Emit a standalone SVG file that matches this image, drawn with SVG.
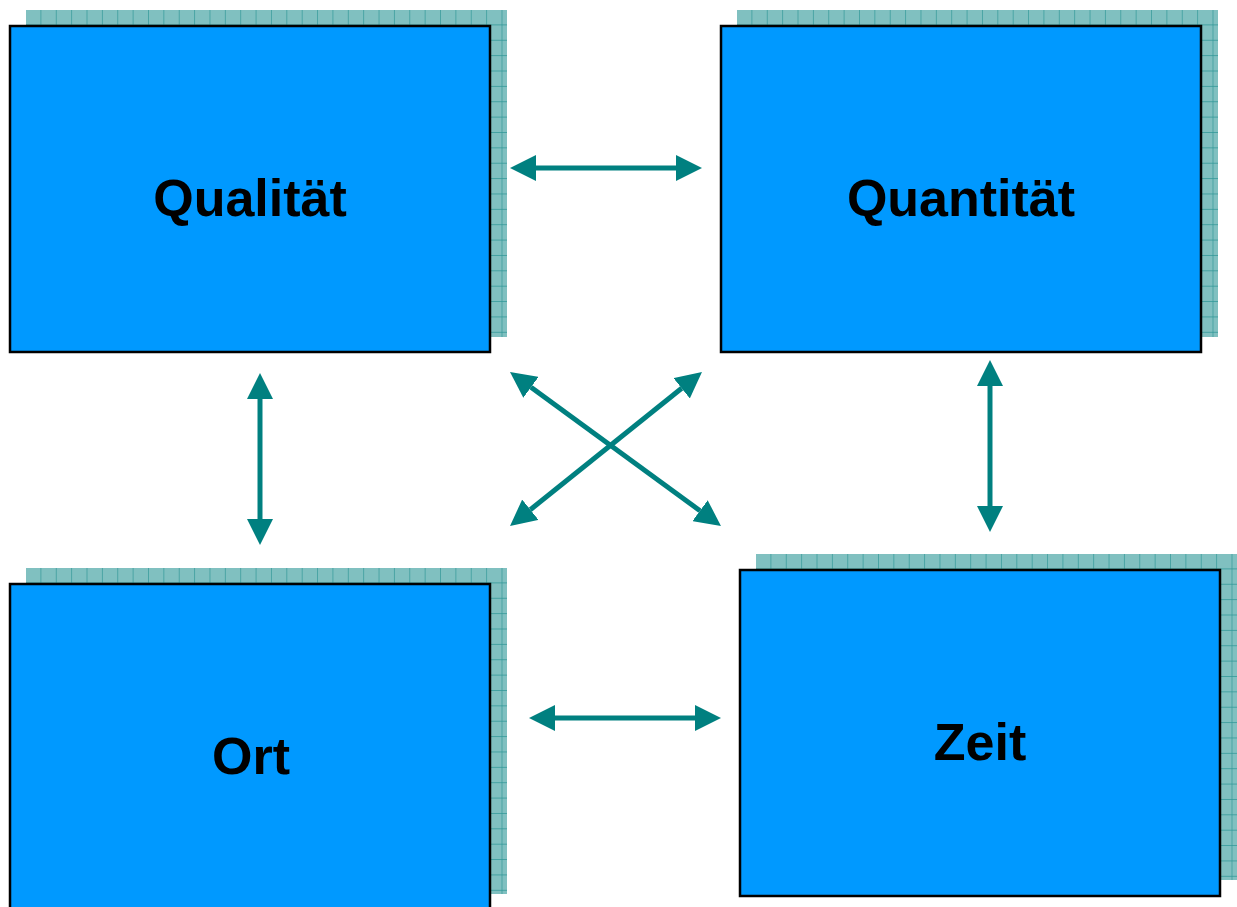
<svg xmlns="http://www.w3.org/2000/svg" width="1237" height="907" viewBox="0 0 1237 907">
  <style>
    .shadow { stroke: none; }
    .box { fill: #0099FF; stroke: #000000; stroke-width: 2.5; }
    .label { font-family: "Liberation Sans", Arial, sans-serif; font-weight: bold; font-size: 52px; fill: #000000; text-anchor: middle; }
    .link { fill: none; stroke: #008080; stroke-width: 5; marker-start: url(#head); marker-end: url(#head); }
  </style>
  <defs>
    <!-- tiled grid used for the offset backdrop of each box -->
    <pattern id="gridA" patternUnits="userSpaceOnUse" x="26" y="10" width="15.37" height="15.37">
      <rect width="15.37" height="15.37" fill="#80C0C0"/>
      <path d="M15.37 0 V15.37 M0 15.37 H15.37" stroke="#2E9696" stroke-width="1.3" fill="none"/>
    </pattern>
    <pattern id="gridB" patternUnits="userSpaceOnUse" x="737" y="10" width="15.37" height="15.37">
      <rect width="15.37" height="15.37" fill="#80C0C0"/>
      <path d="M15.37 0 V15.37 M0 15.37 H15.37" stroke="#2E9696" stroke-width="1.3" fill="none"/>
    </pattern>
    <pattern id="gridC" patternUnits="userSpaceOnUse" x="26" y="568" width="15.37" height="15.37">
      <rect width="15.37" height="15.37" fill="#80C0C0"/>
      <path d="M15.37 0 V15.37 M0 15.37 H15.37" stroke="#2E9696" stroke-width="1.3" fill="none"/>
    </pattern>
    <pattern id="gridD" patternUnits="userSpaceOnUse" x="756" y="554" width="15.37" height="15.37">
      <rect width="15.37" height="15.37" fill="#80C0C0"/>
      <path d="M15.37 0 V15.37 M0 15.37 H15.37" stroke="#2E9696" stroke-width="1.3" fill="none"/>
    </pattern>
    <marker id="head" markerUnits="userSpaceOnUse" viewBox="0 0 26 26" refX="0" refY="13" markerWidth="26" markerHeight="26" orient="auto-start-reverse">
      <path d="M0 0 L26 13 L0 26 Z" fill="#008080"/>
    </marker>
  </defs>

  <g id="node-qualitaet">
    <rect class="shadow" x="26" y="10" width="481" height="327" fill="url(#gridA)"/>
    <rect class="box" x="10" y="26" width="480" height="326"/>
    <text class="label" x="250" y="216">Qualität</text>
  </g>

  <g id="node-quantitaet">
    <rect class="shadow" x="737" y="10" width="481" height="327" fill="url(#gridB)"/>
    <rect class="box" x="721" y="26" width="480" height="326"/>
    <text class="label" x="961" y="216">Quantität</text>
  </g>

  <g id="node-ort">
    <rect class="shadow" x="26" y="568" width="481" height="326" fill="url(#gridC)"/>
    <rect class="box" x="10" y="584" width="480" height="326"/>
    <text class="label" x="251" y="774">Ort</text>
  </g>

  <g id="node-zeit">
    <rect class="shadow" x="756" y="554" width="481" height="326" fill="url(#gridD)"/>
    <rect class="box" x="740" y="570" width="480" height="326"/>
    <text class="label" x="980" y="760">Zeit</text>
  </g>

  <g id="connectors">
    <line class="link" x1="536" y1="168" x2="676" y2="168"/>
    <line class="link" x1="555" y1="718" x2="695" y2="718"/>
    <line class="link" x1="260" y1="399" x2="260" y2="519"/>
    <line class="link" x1="990" y1="386" x2="990" y2="506"/>
    <line class="link" x1="531" y1="387.3" x2="700" y2="510.7"/>
    <line class="link" x1="681.7" y1="388.3" x2="530.3" y2="509.7"/>
  </g>
</svg>
